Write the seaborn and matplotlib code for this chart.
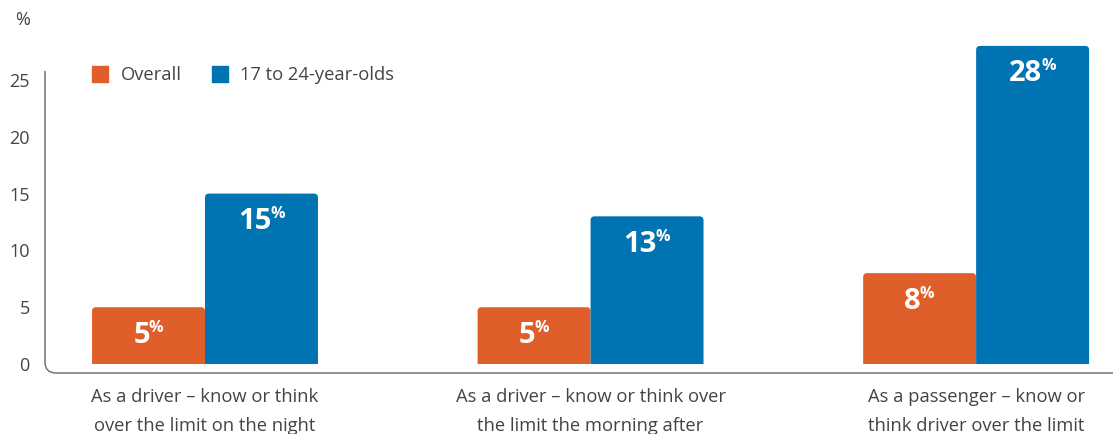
import matplotlib
matplotlib.use("Agg")
import matplotlib.pyplot as plt
import seaborn as sns
import pandas as pd
from matplotlib.lines import Line2D
from matplotlib.patches import FancyBboxPatch, Rectangle, PathPatch
from matplotlib.path import Path
from matplotlib.transforms import IdentityTransform

categories = [
    "As a driver – know or think\nover the limit on the night",
    "As a driver – know or think over\nthe limit the morning after",
    "As a passenger – know or\nthink driver over the limit",
]
series_names = ["Overall", "17 to 24-year-olds"]
overall = [5, 5, 8]
young = [15, 13, 28]
yticks = [0, 5, 10, 15, 20, 25]

ORANGE = "#E05E2A"
BLUE = "#0073B2"
TXT = "#444444"

sns.set_theme(style="white")
plt.rcParams["font.family"] = ["Open Sans", "DejaVu Sans"]

df = pd.DataFrame({
    "category": categories * 2,
    "series": [series_names[0]] * 3 + [series_names[1]] * 3,
    "value": overall + young,
})

W, H = 1113, 434
fig = plt.figure(figsize=(W / 100, H / 100), dpi=100)
AX_L, AX_B = 45, H - 373
ax = fig.add_axes([AX_L / W, AX_B / H, 1068 / W, 343 / H])

sns.barplot(data=df, x="category", y="value", hue="series", order=categories,
            hue_order=series_names, palette=[ORANGE, BLUE], saturation=1,
            width=0.586, ax=ax, legend=False, linewidth=0)

YLO, YHI = -0.79, 29.4
XLO, XHI = -0.415, 2.355
ax.set_xlim(XLO, XHI)
ax.set_ylim(YLO, YHI)

# round the top corners of the bars (geometry taken from seaborn's bars)
px_per_x = 1068 / (XHI - XLO)
px_per_y = 343 / (YHI - YLO)
r_px = 4
for container in ax.containers:
    for bar in container:
        x, w, h = bar.get_x(), bar.get_width(), bar.get_height()
        rx = r_px / px_per_x
        aspect = (r_px / px_per_y) / rx
        fb = FancyBboxPatch((x, -2), w, h + 2,
                            boxstyle=f"round,pad=0,rounding_size={rx}",
                            mutation_aspect=aspect, facecolor=bar.get_facecolor(),
                            edgecolor="none", linewidth=0, zorder=bar.get_zorder())
        ax.add_patch(fb)
        clip = Rectangle((x - 1, 0), w + 2, 100, transform=ax.transData)
        fb.set_clip_path(clip)
        bar.set_visible(False)

ax.set_yticks(yticks)
ax.set_yticklabels([str(t) for t in yticks], fontsize=13, color=TXT)
ax.tick_params(axis="y", length=0, pad=11)
ax.tick_params(axis="x", length=0, pad=11)
ax.set_xticks(range(len(categories)))
ax.set_xticklabels(categories, fontsize=13.2, color=TXT, linespacing=1.8)
ax.set_xlabel("")
ax.set_ylabel("")

for side in ["top", "right", "left", "bottom"]:
    ax.spines[side].set_visible(False)

# axis line with rounded lower-left corner
y_top = ax.transData.transform((0, 25.8))[1]
R = 11
verts = [(AX_L, y_top), (AX_L, AX_B + R), (AX_L, AX_B), (AX_L + R, AX_B), (W + 5, AX_B)]
codes = [Path.MOVETO, Path.LINETO, Path.CURVE3, Path.CURVE3, Path.LINETO]
fig.add_artist(PathPatch(Path(verts, codes), transform=IdentityTransform(),
                         facecolor="none", edgecolor="#666666", linewidth=1.0))

# value labels
vals_by_series = [overall, young]
for container, vals in zip(ax.containers, vals_by_series):
    for bar, v in zip(container, vals):
        xc = bar.get_x() + bar.get_width() / 2
        t = ax.annotate(str(v), xy=(xc, v), xytext=(-7, -28), textcoords="offset pixels",
                        ha="center", va="center", color="white", fontsize=21,
                        fontweight="bold", zorder=5)
        ax.annotate("%", xy=(1, 1), xycoords=t, xytext=(-1, 1), textcoords="offset pixels",
                    ha="left", va="top", color="white", fontsize=11.5, fontweight="bold",
                    zorder=5)

fig.text(15 / W, 1 - 20 / H, "%", fontsize=13, color=TXT, va="center", ha="left")

handles = [Line2D([0], [0], marker="s", linestyle="none", markersize=12,
                  markerfacecolor=c, markeredgecolor=c) for c in (ORANGE, BLUE)]
fig.legend(handles, series_names, loc="center left", bbox_to_anchor=(82 / W, 1 - 75 / H),
           ncol=2, frameon=False, fontsize=13.2, handletextpad=0.1, columnspacing=1.1,
           labelcolor=TXT, borderaxespad=0, borderpad=0)

fig.savefig("out.png", dpi=100)
